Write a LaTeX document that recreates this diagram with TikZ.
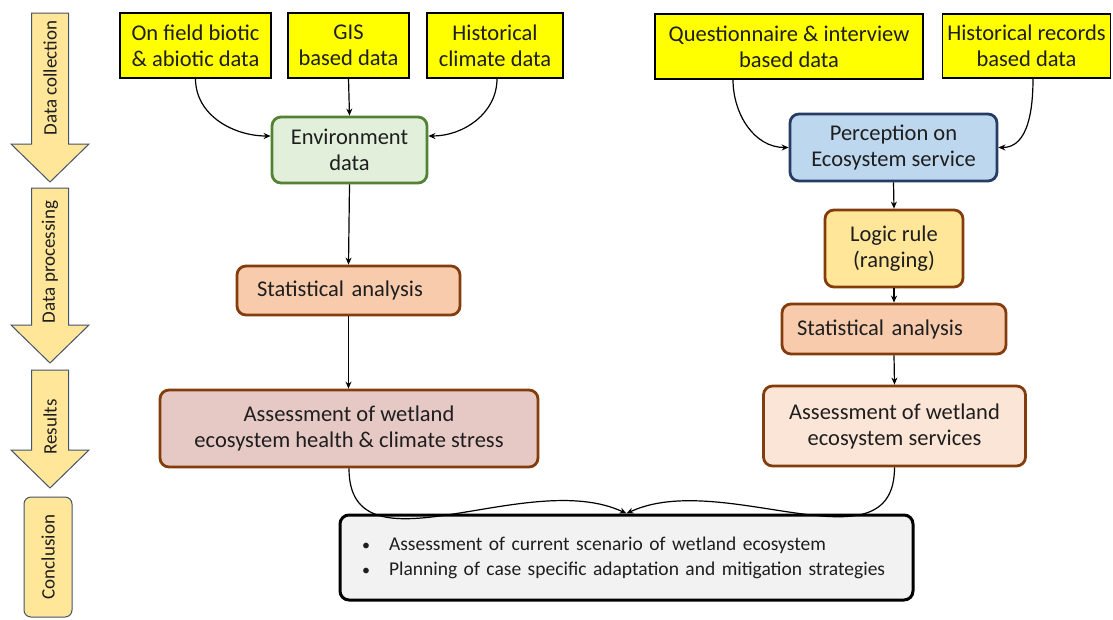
\documentclass[tikz,border=0pt]{standalone}
\usepackage{fontspec}
\setmainfont{Carlito}
\usetikzlibrary{arrows.meta}
\definecolor{ylw}{RGB}{255,255,0}
\definecolor{envfill}{RGB}{226,239,218}
\definecolor{envdraw}{RGB}{84,130,53}
\definecolor{percfill}{RGB}{189,215,238}
\definecolor{percdraw}{RGB}{38,60,100}
\definecolor{brown}{RGB}{132,60,12}
\definecolor{logicfill}{RGB}{255,230,153}
\definecolor{statfill}{RGB}{248,203,173}
\definecolor{asslfill}{RGB}{230,201,197}
\definecolor{assrfill}{RGB}{251,229,214}
\definecolor{conclfill}{RGB}{242,242,242}
\definecolor{stagefill}{RGB}{255,230,153}
\definecolor{stagedraw}{RGB}{68,84,106}
\definecolor{txt}{RGB}{30,30,30}
\newcommand{\mybul}{\makebox[27pt][l]{\fontsize{16}{16}\selectfont\textbullet}}
\begin{document}
\begin{tikzpicture}[x=1pt,y=-1pt,
  every node/.style={text=txt},
  src/.style={draw=black, line width=1.2pt, fill=ylw, align=center, inner sep=0pt,
    font=\fontsize{22.5}{26}\selectfont},
  proc/.style={draw, line width=2.8pt, rounded corners=9pt, align=center, inner sep=0pt,
    font=\fontsize{22.5}{26}\selectfont},
  arr/.style={line width=1.2pt, -{Stealth[length=7pt,width=6pt]}},
  stage/.style={draw=stagedraw, line width=1pt, fill=stagefill},
  stagetext/.style={rotate=90, font=\fontsize{19}{22}\selectfont}
]
\useasboundingbox[fill=white] (0,0) rectangle (1113,619);

% stage arrows
\draw[stage] (31.5,13) -- (68.5,13) -- (68.5,144) -- (89,144) -- (50,182) -- (11,144) -- (31.5,144) -- cycle;
\draw[stage] (31.5,188) -- (68.5,188) -- (68.5,325) -- (89,325) -- (50,363) -- (11,325) -- (31.5,325) -- cycle;
\draw[stage] (31.5,370) -- (68.5,370) -- (68.5,450) -- (89,450) -- (50,488) -- (11,450) -- (31.5,450) -- cycle;
\draw[stage, rounded corners=7pt] (24,497) rectangle (72,617);
\node[stagetext] (s1) at (50,78) {Data collection};
\node[stagetext] (s2) at (50,262) {Data processing};
\node[stagetext] (s3) at (50,427) {Results};
\node[stagetext] (s4) at (48,557) {Conclusion};

% source boxes
\node[src, minimum width=151pt, minimum height=65pt] (b1) at (195.5,45.5) {On field biotic\\\& abiotic data};
\node[src, minimum width=121pt, minimum height=65pt] (b2) at (348.5,45.5) {GIS\\based data};
\node[src, minimum width=136pt, minimum height=65pt] (b3) at (495,45.5) {Historical\\climate data};
\node[src, minimum width=268pt, minimum height=65pt] (b4) at (789,46.5) {Questionnaire \& interview\\based data};
\node[src, minimum width=168pt, minimum height=64pt] (b5) at (1026.5,46) {Historical records\\based data};

% process boxes
\node[proc, draw=envdraw, fill=envfill, minimum width=155pt, minimum height=66pt] (env) at (349.5,150) {Environment\\data};
\node[proc, draw=percdraw, fill=percfill, minimum width=207pt, minimum height=67pt] (perc) at (893.5,147.5) {Perception on\\Ecosystem service};
\node[proc, draw=brown, fill=logicfill, minimum width=138pt, minimum height=77pt] (logic) at (894,248.5) {Logic rule\\(ranging)};
\node[proc, draw=brown, fill=statfill, minimum width=224pt, minimum height=50pt, text width=194pt, align=left, inner xsep=15pt] (statr) at (894,329) {Statistical analysis};
\node[proc, draw=brown, fill=assrfill, minimum width=262pt, minimum height=80pt] (assr) at (894.5,426) {Assessment of wetland\\ecosystem services};
\node[proc, draw=brown, fill=statfill, minimum width=223pt, minimum height=49pt, text width=183pt, align=left, inner xsep=20pt] (statl) at (348.5,290.5) {Statistical analysis};
\node[proc, draw=brown, fill=asslfill, minimum width=378pt, minimum height=77pt] (assl) at (349,428.5) {Assessment of wetland\\ecosystem health \& climate stress};
\node[proc, draw=black, line width=3pt, fill=conclfill, minimum width=573pt, minimum height=85pt,
  text width=529pt, inner xsep=22pt, align=left, font=\fontsize{19.5}{25}\selectfont] (concl) at (626.5,557.5)
  {\mybul Assessment of current scenario of wetland ecosystem\\
   \mybul Planning of case specific adaptation and mitigation strategies};

% connectors
\draw[arr] (b1.south) to[out=-90, in=180] ([yshift=14pt]env.west);
\draw[arr] (b2.south) -- (env.north);
\draw[arr] ([xshift=2pt]b3.south) to[out=-90, in=0] ([yshift=14pt]env.east);
\draw[arr] (env.south) -- (statl.north);
\draw[arr] (statl.north |- statl.south) -- (statl.north |- assl.north);
\draw[arr] ([xshift=-56pt]b4.south) to[out=-90, in=180] (perc.west);
\draw[arr] ([xshift=6.5pt]b5.south) to[out=-90, in=0] (perc.east);
\draw[arr] (perc.south) -- (logic.north);
\draw[arr] (logic.south) -- (statr.north);
\draw[arr] (statr.south) -- (assr.north);
\draw[arr] (assl.south) to[out=-90, in=155] (concl.north);
\draw[arr] (assr.south) to[out=-90, in=25] (concl.north);
\end{tikzpicture}
\end{document}
